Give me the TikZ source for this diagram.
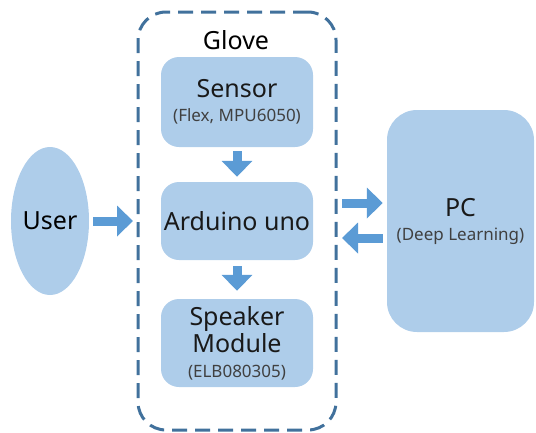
\documentclass[tikz,border=0pt]{standalone}
\usepackage{fontspec}
\setmainfont{Noto Sans}
\usetikzlibrary{arrows.meta,shapes.geometric}

\definecolor{boxblue}{HTML}{AECDEA}
\definecolor{flowblue}{HTML}{5B9BD5}
\definecolor{frameblue}{HTML}{41719C}
\definecolor{textgray}{HTML}{404040}

\newcommand{\subfont}{\fontsize{17}{20}\selectfont\color{textgray}}

\tikzset{
  block/.style={fill=boxblue,rounded corners=18pt,minimum width=152pt,align=center,
    font=\fontsize{25}{27}\selectfont,text=black!90,inner sep=0pt},
  flow/.style={draw=flowblue,line width=9pt,-{Triangle[length=16pt,width=30pt]}},
}

\begin{document}
\begin{tikzpicture}[x=1pt,y=-1pt]
\useasboundingbox (0,0) rectangle (536,432);

% Left: user
\node[ellipse,fill=boxblue,minimum width=78pt,minimum height=148pt,inner sep=0pt,
  font=\fontsize{25}{27}\selectfont] (user) at (50,221) {User};

% Middle: glove
\node[draw=frameblue,line width=3pt,dash pattern=on 15pt off 8pt,rounded corners=28pt,
  minimum width=198pt,minimum height=418pt,outer sep=0pt] (glove) at (237,221) {};
\node[font=\fontsize{25}{27}\selectfont] (glovelabel) at (236,40) {Glove};
\node[block,minimum height=90pt] (sensor) at (237,102)
  {Sensor\\[-3pt]{\subfont (Flex, MPU6050)}};
\node[block,minimum height=78pt] (arduino) at (237,221) {Arduino uno};
\node[block,minimum height=88pt] (speaker) at (237,343)
  {Speaker\\Module\\[-2pt]{\subfont (ELB080305)}};

% Right: pc
\node[block,rounded corners=30pt,minimum width=147pt,minimum height=222pt] (pc) at (460.5,221)
  {PC\\[-3pt]{\subfont (Deep Learning)}};

% Arrows
\draw[flow,shorten <=4pt,shorten >=5pt] (user.east) -- (user.east -| glove.west);
\draw[flow,shorten <=4pt,shorten >=5pt] (sensor) -- (arduino);
\draw[flow,shorten <=6pt,shorten >=8pt] (arduino) -- (speaker);
\draw[flow,shorten <=6pt,shorten >=4pt] ([yshift=18pt]glove.east) -- ([yshift=18pt]pc.west);
\draw[flow,shorten <=4pt,shorten >=6pt] ([yshift=-17pt]pc.west) -- ([yshift=-17pt]glove.east);
\end{tikzpicture}
\end{document}
